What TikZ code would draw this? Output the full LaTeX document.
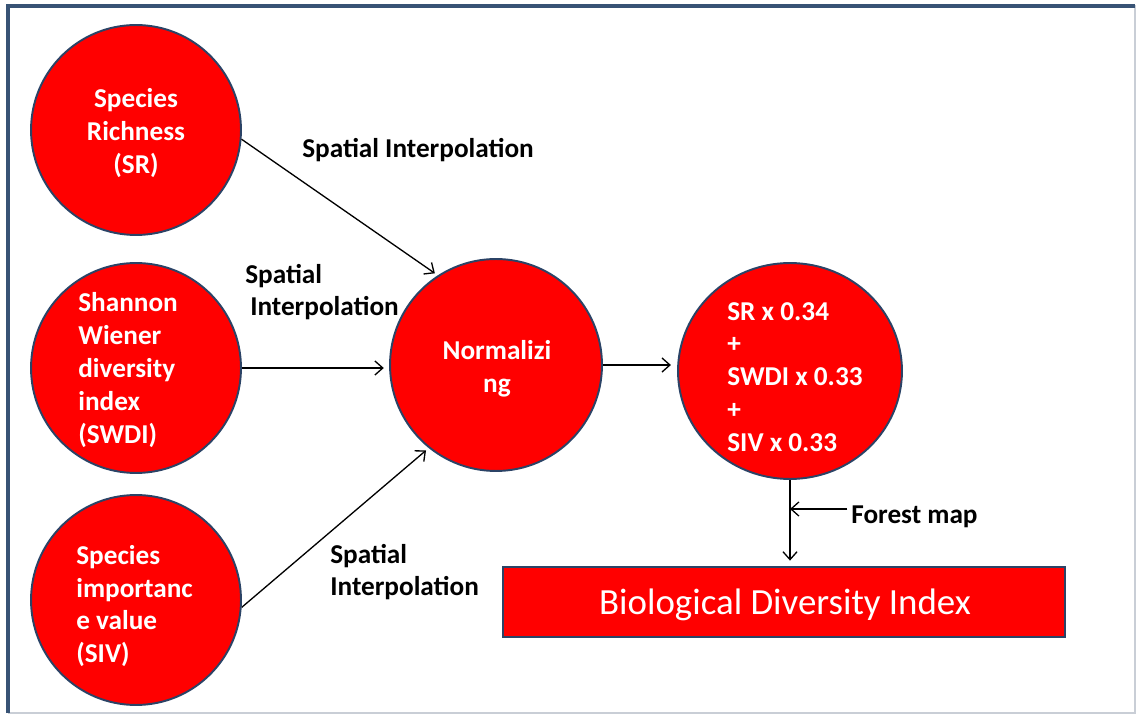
\documentclass[tikz,border=0pt]{standalone}
\usepackage{fontspec}
\setmainfont{Carlito}
\usetikzlibrary{arrows.meta,positioning,shapes.geometric}

\definecolor{navy}{HTML}{2B4366}
\definecolor{frameblue}{HTML}{385375}
\definecolor{framegray}{HTML}{C9CED6}

\begin{document}
\begin{tikzpicture}[
        x=0.02cm, y=-0.02cm,
        % Block styles
        blob/.style={
            circle,
            draw=navy,
            line width=1.1pt,
            fill=red,
            inner sep=0pt,
            minimum size=#1
        },
        blobtext/.style={
            text=white,
            font=\fontsize{15.5}{18.7}\selectfont\bfseries,
            inner sep=0pt
        },
        caption/.style={
            font=\fontsize{15.5}{18.7}\selectfont\bfseries,
            align=left,
            inner sep=0pt
        },
        arrow/.style={-{Straight Barb[length=4.5pt,width=8pt]}, line width=0.75pt}
    ]
    \useasboundingbox (0,0) rectangle (1137,716);

    % Frame
    \draw[framegray, line width=1.2pt] (8,6) -- (1135,6) -- (1135,713) -- (8,713);
    \draw[frameblue, line width=1.8pt] (8,713) -- (8,6) -- (1135,6);

    % Inputs
    \node[blob=4.2cm] (sr) at (136,130) {};
    \node[blobtext, align=center] (srtext) at (136,133) {Species\\Richness\\(SR)};

    \node[blob=4.2cm] (swdi) at (136,368) {};
    \node[blobtext, align=left, anchor=west] (swditext) at (78,370) {Shannon\\Wiener\\diversity\\index\\(SWDI)};

    \node[blob=4.2cm] (siv) at (136,600) {};
    \node[blobtext, align=left, anchor=west] (sivtext) at (76,606) {Species\\importanc\\e value\\(SIV)};

    % Normalizing
    \node[blob=4.24cm] (norm) at (496,365) {};
    \node[blobtext, align=center] (normtext) at (497,369) {Normalizi\\ng};

    % Weighted sum
    \node[blob=0pt, ellipse, minimum width=4.48cm, minimum height=4.32cm] (combo) at (790,371) {};
    \node[blobtext, align=left, anchor=west] (combotext) at (727,377) {SR x 0.34\\+\\SWDI x 0.33\\+\\SIV x 0.33};

    % Output
    \node[rectangle, draw=navy, line width=1.3pt, fill=red, inner sep=0pt,
          minimum width=11.24cm, minimum height=1.4cm] (bdi) at (784,602) {};
    \node[text=white, font=\fontsize{21}{25}\selectfont, inner sep=0pt] (bditext) at (785,605) {Biological Diversity Index};

    % Labels
    \node[caption] (lab1) at (418,150) {Spatial Interpolation};
    \node[caption, anchor=west] (lab2) at (245,292) {Spatial\\\hspace*{2.8pt}Interpolation};
    \node[caption, anchor=west] (lab3) at (330,572) {Spatial\\Interpolation};
    \node[caption, anchor=west] (fmap) at (851,517) {Forest map};

    % Connections
    \draw[arrow, shorten >=2pt] (sr.-5) -- (norm.123);
    \draw[arrow, shorten >=3pt] (swdi.east) -- (swdi.east -| norm.west);
    \draw[arrow, shorten >=2pt] (siv.-4) -- (norm.231);
    \draw[arrow, shorten >=3.5pt] (norm.east) -- (norm.east -| combo.west);
    \draw[arrow, shorten >=3pt] (combo.south) -- (combo.south |- bdi.north);
    \coordinate (fmtip) at ([yshift=0.16cm]fmap.west -| combo.south);
    \draw[arrow] ([yshift=0.16cm, xshift=-2pt]fmap.west) -- (fmtip);

\end{tikzpicture}
\end{document}
